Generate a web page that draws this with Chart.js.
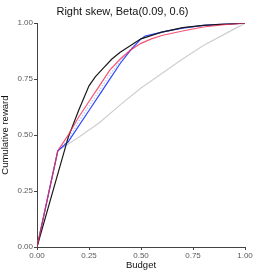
<!DOCTYPE html>
<html>
<head>
<meta charset="utf-8">
<script src="https://cdn.jsdelivr.net/npm/chart.js@4"></script>
<style>
  html, body { margin: 0; padding: 0; background: #fff; }
  #wrap { width: 277px; height: 277px; }
</style>
</head>
<body>
<div id="wrap"><canvas id="chart" width="277" height="277"></canvas></div>
<script>
// values
const budgetTicks = [0, 0.25, 0.5, 0.75, 1];
const rewardTicks = [0, 0.25, 0.5, 0.75, 1];

const grayX = [0, 0.1, 0.2, 0.3, 0.4, 0.5, 0.6, 0.7, 0.8, 0.9, 1];
const grayY = [0, 0.43, 0.49, 0.555, 0.635, 0.71, 0.775, 0.84, 0.9, 0.95, 1];

const lightBlueX = [0, 0.1, 0.15, 0.2, 0.25, 0.3, 0.35, 0.4, 0.45, 0.5, 0.6, 0.7, 0.8, 0.9, 1];
const lightBlueY = [0, 0.43, 0.48, 0.56, 0.63, 0.7, 0.77, 0.83, 0.885, 0.93, 0.96, 0.978, 0.99, 0.996, 1];

const blueX = [0, 0.1, 0.15, 0.2, 0.25, 0.3, 0.35, 0.4, 0.45, 0.5, 0.52, 0.6, 0.7, 0.8, 0.9, 1];
const blueY = [0, 0.43, 0.47, 0.54, 0.61, 0.68, 0.75, 0.82, 0.88, 0.93, 0.943, 0.96, 0.978, 0.99, 0.996, 1];

const blackX = [0, 0.15, 0.2, 0.25, 0.28, 0.32, 0.36, 0.4, 0.45, 0.5, 0.6, 0.7, 0.8, 0.9, 1];
const blackY = [0, 0.49, 0.61, 0.72, 0.76, 0.8, 0.84, 0.87, 0.9, 0.93, 0.96, 0.98, 0.99, 0.996, 1];

const redX = [0, 0.1, 0.15, 0.2, 0.25, 0.3, 0.35, 0.4, 0.45, 0.5, 0.55, 0.6, 0.7, 0.8, 0.9, 1];
const redY = [0, 0.43, 0.5, 0.58, 0.65, 0.72, 0.79, 0.84, 0.88, 0.91, 0.93, 0.945, 0.965, 0.983, 0.993, 1];

const toPoints = (xs, ys) => xs.map((x, i) => ({ x: x, y: ys[i] }));

const line = (label, xs, ys, color, order, extra) => Object.assign({
  label: label,
  data: toPoints(xs, ys),
  borderColor: color,
  borderWidth: 1.2,
  pointRadius: 0,
  tension: 0,
  fill: false,
  order: order
}, extra || {});

const axisColor = '#444';
const tickColor = '#5a5a5a';

new Chart(document.getElementById('chart').getContext('2d'), {
  type: 'line',
  data: {
    datasets: [
      line('gray', grayX, grayY, '#cfcfcf', 5),
      line('lightblue', lightBlueX, lightBlueY, '#a9cdf7', 4, { borderDash: [1.5, 1.5] }),
      line('blue', blueX, blueY, 'rgba(30,50,255,0.9)', 3),
      line('black', blackX, blackY, '#1a1a1a', 2),
      line('red', redX, redY, 'rgba(245,40,80,0.8)', 1)
    ]
  },
  options: {
    responsive: false,
    animation: false,
    events: [],
    layout: { padding: { top: 0, right: 32, left: 0, bottom: 6 } },
    plugins: {
      legend: { display: false },
      tooltip: { enabled: false },
      title: {
        display: true,
        text: 'Right skew, Beta(0.09, 0.6)',
        color: '#111',
        font: { family: 'Liberation Sans', size: 11, weight: 'normal' },
        padding: { top: 5, bottom: 5 }
      }
    },
    scales: {
      x: {
        type: 'linear',
        min: 0, max: 1,
        afterBuildTicks: s => { s.ticks = budgetTicks.map(v => ({ value: v })); },
        afterFit: s => { s.height = 24; },
        grid: { drawOnChartArea: false, drawTicks: true, tickLength: 3, color: axisColor },
        border: { display: true, color: axisColor, width: 1 },
        ticks: {
          color: tickColor, padding: 1,
          font: { family: 'Liberation Sans', size: 8 },
          maxRotation: 0,
          callback: v => v.toFixed(2)
        },
        title: {
          display: true, text: 'Budget', color: '#111',
          font: { family: 'Liberation Sans', size: 9.5 },
          padding: { top: 0, bottom: 0 }
        }
      },
      y: {
        type: 'linear',
        min: 0, max: 1,
        afterBuildTicks: s => { s.ticks = rewardTicks.map(v => ({ value: v })); },
        afterFit: s => { s.width = 37; },
        grid: { drawOnChartArea: false, drawTicks: true, tickLength: 3, color: axisColor },
        border: { display: true, color: axisColor, width: 1 },
        ticks: {
          color: tickColor, padding: 1,
          font: { family: 'Liberation Sans', size: 8 },
          callback: v => v.toFixed(2)
        },
        title: {
          display: true, text: 'Cumulative reward', color: '#111',
          font: { family: 'Liberation Sans', size: 9.5 },
          padding: { top: 0, bottom: 2 }
        }
      }
    }
  }
});
</script>
</body>
</html>
